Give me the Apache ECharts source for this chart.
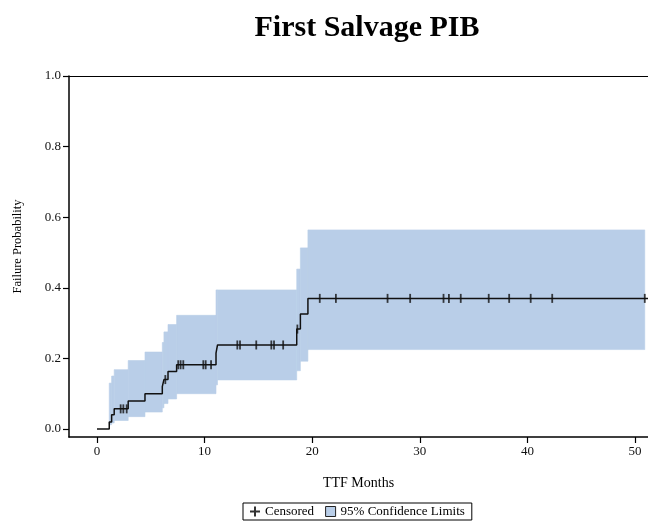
<!DOCTYPE html>
<html>
<head>
<meta charset="utf-8">
<script src="https://cdn.jsdelivr.net/npm/echarts@6/dist/echarts.min.js"></script>
<style>
html,body{margin:0;padding:0;background:#fff;}
#chart{width:648px;height:522px;}
</style>
</head>
<body>
<div id="chart"></div>
<script>
// Step-function failure probability (time at which value starts)
var stepTimes = [0, 1.14, 1.36, 1.6, 2.9, 4.46, 6.07, 6.22, 6.6, 7.4, 11.06, 11.2, 18.56, 18.9, 19.6];
var stepF     = [0, 0.02, 0.04, 0.057, 0.079, 0.1, 0.12, 0.14, 0.163, 0.182, 0.215, 0.238, 0.283, 0.326, 0.37];
var curveEnd = 51.2;
// 95% confidence limits (interval start times)
var bandTimes = [1.14, 1.36, 1.6, 2.9, 4.46, 6.07, 6.22, 6.6, 7.4, 11.06, 11.2, 18.56, 18.9, 19.6];
var bandLower = [0.012, 0.017, 0.024, 0.035, 0.048, 0.06, 0.072, 0.085, 0.1, 0.125, 0.139, 0.165, 0.192, 0.225];
var bandUpper = [0.13, 0.15, 0.168, 0.194, 0.218, 0.245, 0.275, 0.296, 0.322, 0.394, 0.394, 0.453, 0.513, 0.564];
var bandEnd = 50.9;
// Censored times
var censTimes = [2.2, 2.45, 2.76, 6.35, 7.55, 7.77, 8.02, 9.88, 10.1, 10.6, 13.04, 13.29, 14.8, 16.2, 16.45, 17.3, 18.62,
                 20.7, 22.2, 27.0, 29.1, 32.2, 32.7, 33.8, 36.4, 38.3, 40.3, 42.3, 50.9];
var xTicks = [0, 10, 20, 30, 40, 50];
var yTicks = [0, 0.2, 0.4, 0.6, 0.8, 1.0];

function fAt(t){
  var v = stepF[0];
  for (var i=0;i<stepTimes.length;i++){ if (stepTimes[i] <= t) v = stepF[i]; }
  return v;
}
var curveData = stepTimes.map(function(t,i){return [t, stepF[i]];});
curveData.push([curveEnd, stepF[stepF.length-1]]);
var bandData = bandTimes.map(function(t,i){
  var t1 = (i < bandTimes.length-1) ? bandTimes[i+1] : bandEnd;
  return [t, t1, bandLower[i], bandUpper[i]];
});
var censData = censTimes.map(function(t){return [t, fAt(t)];});

var serif = '"Liberation Serif","Times New Roman",serif';
var bandColor = '#b9cee8';
var chart = echarts.init(document.getElementById('chart'), null, {renderer:'canvas'});
chart.setOption({
  animation:false,
  backgroundColor:'#fff',
  title:{text:'First Salvage PIB', left:362, textAlign:'center', top:8,
    textStyle:{fontFamily:serif, fontSize:30, fontWeight:'bold', color:'#000'}},
  grid:{left:69, top:76, right:0, height:361, containLabel:false},
  legend:{
    top:503, left:243, orient:'horizontal',
    borderColor:'#000', borderWidth:1, padding:[2,7], itemGap:11,
    itemWidth:10, itemHeight:10,
    textStyle:{fontFamily:serif, fontSize:13, color:'#000'},
    data:[
      {name:'Censored', icon:'path://M4,0H6V4H10V6H6V10H4V6H0V4H4Z', itemStyle:{color:'#000'}},
      {name:'95% Confidence Limits', icon:'rect', itemStyle:{color:bandColor, borderColor:'#222', borderWidth:1}}
    ]
  },
  xAxis:[{
    type:'value', min:-2.6, max:51.2,
    name:'TTF Months', nameLocation:'middle', nameGap:39,
    nameTextStyle:{fontFamily:serif, fontSize:14, color:'#000'},
    axisLine:{show:true, onZero:false, lineStyle:{color:'#000', width:1.5}},
    axisTick:{show:true, length:6, customValues:xTicks, lineStyle:{color:'#000', width:1.2}},
    axisLabel:{customValues:xTicks, fontFamily:serif, fontSize:13, color:'#111', margin:8},
    splitLine:{show:false}
  },{
    type:'value', position:'top', min:-2.6, max:51.2,
    axisLine:{show:true, onZero:false, lineStyle:{color:'#000', width:1.2}},
    axisTick:{show:false}, axisLabel:{show:false}, splitLine:{show:false}
  }],
  yAxis:{
    type:'value', min:-0.0227, max:1.0,
    name:'Failure Probability', nameLocation:'middle', nameGap:45, nameRotate:90,
    nameTextStyle:{fontFamily:serif, fontSize:12.5, color:'#000', padding:[0,0,0,20]},
    axisLine:{show:true, onZero:false, lineStyle:{color:'#000', width:1.5}},
    axisTick:{show:true, length:6, customValues:yTicks, lineStyle:{color:'#000', width:1.2}},
    axisLabel:{customValues:yTicks, fontFamily:serif, fontSize:13, color:'#111', margin:8,
      formatter:function(v){return v.toFixed(1);}},
    splitLine:{show:false}
  },
  series:[
    {name:'95% Confidence Limits', type:'custom', data:bandData, silent:true, z:1,
      encode:{x:[0,1], y:[2,3]},
      itemStyle:{color:bandColor},
      renderItem:function(params, api){
        var p0 = api.coord([api.value(0), api.value(3)]);
        var p1 = api.coord([api.value(1), api.value(2)]);
        return {type:'rect',
          shape:{x:p0[0], y:p0[1], width:p1[0]-p0[0], height:p1[1]-p0[1]},
          style:{fill:bandColor, stroke:bandColor, lineWidth:0.6}};
      }},
    {name:'Failure', type:'line', step:'end', data:curveData, symbol:'none',
      lineStyle:{color:'#111', width:1.5}, z:3},
    {name:'Censored', type:'scatter', data:censData, symbol:'rect', symbolSize:[1.8,9],
      itemStyle:{color:'#111'}, z:4}
  ]
});
</script>
</body>
</html>
